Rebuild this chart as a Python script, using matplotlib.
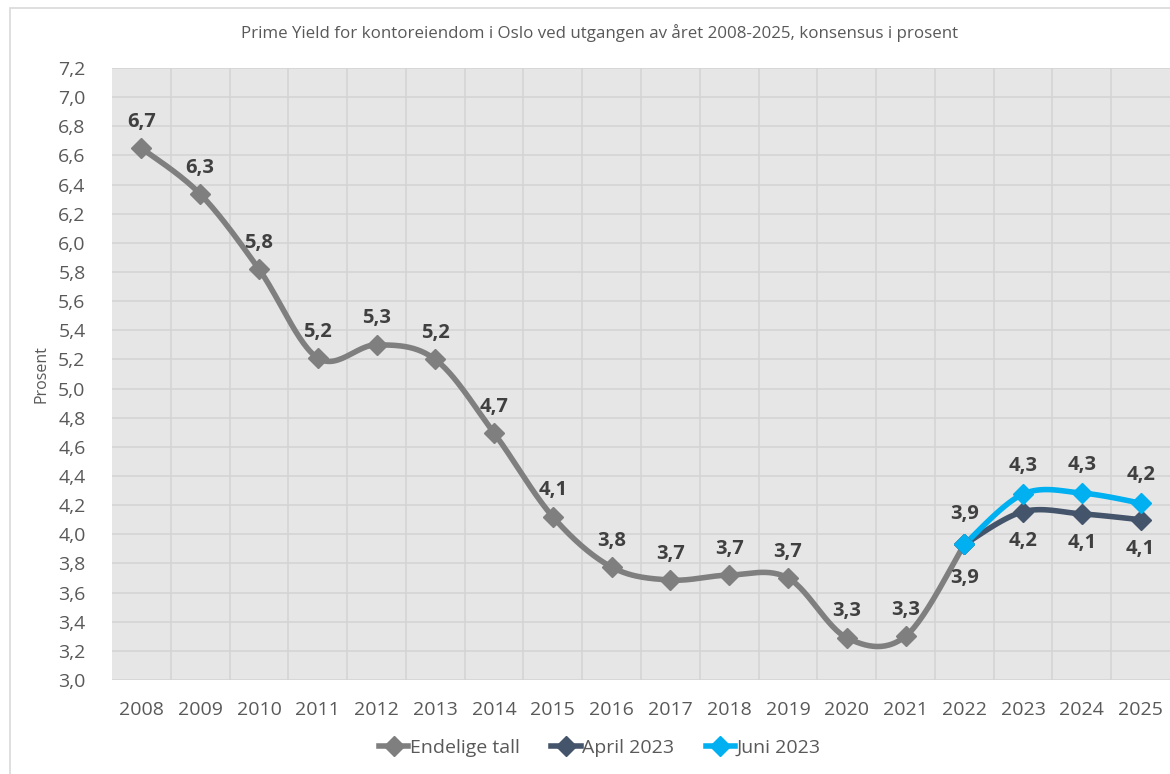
import numpy as np
import matplotlib
matplotlib.use('Agg')
import matplotlib.pyplot as plt
from matplotlib.lines import Line2D
from matplotlib.patches import Rectangle

plt.rcParams['font.family'] = ['Open Sans', 'DejaVu Sans']

years = [str(y) for y in range(2008, 2026)]
endelige = [6.65, 6.335, 5.82, 5.21, 5.30, 5.20, 4.695, 4.12, 3.775, 3.686, 3.72, 3.70, 3.29, 3.30, 3.93]
april = [3.93, 4.155, 4.14, 4.10]
juni = [3.93, 4.276, 4.283, 4.214]
yticks = [3.0 + 0.2 * i for i in range(22)]

c_end = '#7f7f7f'
c_apr = '#44546a'
c_jun = '#00b0f0'
c_lab = '#404040'
c_txt = '#595959'


def smooth(x, y, n=30):
    # excel style smoothed line (bezier through points, catmull-rom tangents)
    x = np.asarray(x, float)
    y = np.asarray(y, float)
    px = np.concatenate([[x[0]], x, [x[-1]]])
    py = np.concatenate([[y[0]], y, [y[-1]]])
    xs, ys = [], []
    t = np.linspace(0, 1, n)
    for i in range(1, len(px) - 2):
        p0 = np.array([px[i], py[i]])
        p3 = np.array([px[i + 1], py[i + 1]])
        c1 = p0 + (np.array([px[i + 1], py[i + 1]]) - np.array([px[i - 1], py[i - 1]])) / 6
        c2 = p3 - (np.array([px[i + 2], py[i + 2]]) - np.array([px[i], py[i]])) / 6
        b = ((1 - t) ** 3)[:, None] * p0 + (3 * (1 - t) ** 2 * t)[:, None] * c1 \
            + (3 * (1 - t) * t ** 2)[:, None] * c2 + (t ** 3)[:, None] * p3
        xs.extend(b[:, 0])
        ys.extend(b[:, 1])
    return xs, ys


fig = plt.figure(figsize=(11.7, 7.74), dpi=100)
ax = fig.add_axes([112 / 1170, 1 - 680 / 774, 1058 / 1170, 612 / 774])
ax.set_facecolor('#e7e6e6')

# chart border
fig.patches.append(Rectangle((10 / 1170, -0.01), 1.0, 1 - 8 / 774 + 0.01, transform=fig.transFigure,
                             fill=False, edgecolor='#d9d9d9', linewidth=1.2))

x_end = np.arange(len(endelige))
x_fc = np.arange(14, 18)

for xv, yv, col in [(x_end, endelige, c_end), (x_fc, april, c_apr), (x_fc, juni, c_jun)]:
    sx, sy = smooth(xv, yv)
    ax.plot(sx, sy, color=col, linewidth=4, solid_capstyle='round', zorder=3)
    ax.plot(xv, yv, linestyle='none', marker='D', markersize=10, color=col, zorder=4)


def fmt(v):
    return f'{v:.1f}'.replace('.', ',')


lab_kw = dict(textcoords='offset points', ha='center', fontsize=14.5, fontweight='bold', color=c_lab)
for xi, v in zip(x_end[:-1], endelige[:-1]):
    ax.annotate(fmt(v), (xi, v), xytext=(0, 19), va='center', **lab_kw)
for xi, v in zip(x_fc, juni):
    ax.annotate(fmt(v), (xi, v), xytext=(0, 20 if xi != 14 else 22), va='center', **lab_kw)
for xi, v in zip(x_fc, april):
    ax.annotate(fmt(v), (xi, v), xytext=(0, -21 if xi != 14 else -24), va='center', **lab_kw)

ax.set_xlim(-0.5, 17.5)
ax.set_ylim(3.0, 7.2)
ax.set_xticks(range(len(years)))
ax.set_xticklabels(years)
ax.set_xticks(np.arange(0.5, 17.5, 1), minor=True)
ax.set_yticks(yticks)
ax.set_yticklabels([fmt(v) for v in yticks])
ax.grid(True, which='major', axis='y', color='#d4d4d4', linewidth=1.2)
ax.grid(True, which='minor', axis='x', color='#d4d4d4', linewidth=1.2)
ax.set_axisbelow(True)
ax.tick_params(axis='both', which='both', length=0, labelsize=14, colors=c_txt)
ax.tick_params(axis='x', pad=15)
ax.tick_params(axis='y', pad=19)
for s in ax.spines.values():
    s.set_visible(False)

ax.set_ylabel('Prosent', fontsize=11.5, color=c_txt, labelpad=6)
fig.text(600 / 1170, 1 - 33 / 774, 'Prime Yield for kontoreiendom i Oslo ved utgangen av året 2008-2025, konsensus i prosent',
         ha='center', va='center', fontsize=12.2, color=c_txt)

handles = [Line2D([], [], color=c, linewidth=4, marker='D', markersize=10) for c in (c_end, c_apr, c_jun)]
fig.legend(handles, ['Endelige tall', 'April 2023', 'Juni 2023'], loc='center',
           bbox_to_anchor=(600 / 1170, 1 - 748 / 774), ncol=3, frameon=False, fontsize=14,
           handlelength=1.5, handletextpad=0.1, columnspacing=1.6, labelcolor=c_txt)

fig.savefig('out.png', dpi=100)
